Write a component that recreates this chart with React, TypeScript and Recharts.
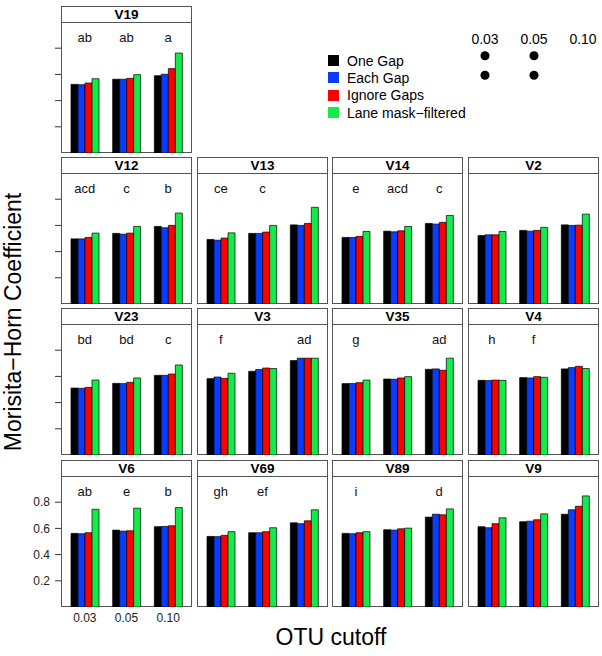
import React from "react";
import {
  BarChart,
  Bar,
  XAxis,
  YAxis,
  ZAxis,
  ReferenceDot,
  ScatterChart,
  Scatter,
} from "recharts";

const cutoffs = ["0.03", "0.05", "0.10"];
const methods = ["One Gap", "Each Gap", "Ignore Gaps", "Lane mask\u2212filtered"];
const methodKeys = ["oneGap", "eachGap", "ignoreGaps", "laneMask"];
const colors = ["#000000", "#0a3cff", "#ff0000", "#14eb4b"];

// Morisita-Horn values per region: [One Gap, Each Gap, Ignore Gaps, Lane mask] x cutoff
const v19 = [[0.524, 0.563, 0.59], [0.521, 0.563, 0.601], [0.534, 0.57, 0.644], [0.567, 0.598, 0.763]];
const v12 = [[0.497, 0.539, 0.592], [0.497, 0.533, 0.582], [0.508, 0.541, 0.6], [0.541, 0.592, 0.694]];
const v13 = [[0.493, 0.539, 0.604], [0.487, 0.539, 0.6], [0.503, 0.549, 0.615], [0.543, 0.6, 0.738]];
const v14 = [[0.508, 0.556, 0.615], [0.508, 0.551, 0.61], [0.516, 0.559, 0.623], [0.554, 0.592, 0.676]];
const v2 = [[0.523, 0.562, 0.604], [0.528, 0.556, 0.6], [0.528, 0.562, 0.602], [0.554, 0.585, 0.686]];
const v23 = [[0.511, 0.547, 0.608], [0.509, 0.545, 0.608], [0.516, 0.555, 0.618], [0.572, 0.588, 0.687]];
const v3 = [[0.583, 0.639, 0.721], [0.595, 0.652, 0.739], [0.585, 0.664, 0.739], [0.624, 0.66, 0.739]];
const v35 = [[0.545, 0.58, 0.654], [0.545, 0.578, 0.657], [0.552, 0.588, 0.647], [0.572, 0.598, 0.739]];
const v4 = [[0.57, 0.591, 0.657], [0.568, 0.588, 0.667], [0.572, 0.598, 0.677], [0.57, 0.593, 0.66]];
const v6 = [[0.562, 0.587, 0.613], [0.559, 0.579, 0.615], [0.567, 0.582, 0.62], [0.746, 0.754, 0.759]];
const v69 = [[0.539, 0.567, 0.643], [0.537, 0.567, 0.636], [0.547, 0.575, 0.658], [0.575, 0.605, 0.742]];
const v89 = [[0.562, 0.59, 0.686], [0.559, 0.587, 0.708], [0.567, 0.597, 0.704], [0.575, 0.602, 0.749]];
const v9 = [[0.613, 0.651, 0.708], [0.605, 0.655, 0.742], [0.636, 0.666, 0.769], [0.681, 0.711, 0.848]];

// significance letters above each cutoff group
const v19Letters = ["ab", "ab", "a"];
const v12Letters = ["acd", "c", "b"];
const v13Letters = ["ce", "c", ""];
const v14Letters = ["e", "acd", "c"];
const v2Letters = ["", "", ""];
const v23Letters = ["bd", "bd", "c"];
const v3Letters = ["f", "", "ad"];
const v35Letters = ["g", "", "ad"];
const v4Letters = ["h", "f", ""];
const v6Letters = ["ab", "e", "b"];
const v69Letters = ["gh", "ef", ""];
const v89Letters = ["i", "", "d"];
const v9Letters = ["", "", ""];

const yTicks = [0.2, 0.4, 0.6, 0.8];

// dot matrix in the top right corner (rows x cutoffs)
const dotMatrix = [
  [1, 1, 0],
  [1, 1, 0],
];

// layout
const COL_X = [61, 197, 332, 468];
const ROW_Y = [6, 157, 308, 460];
const PW = 131;
const HEAD = 16;
const PH = 131;
const BORDER = "#555";
const FONT = "'Liberation Sans', Arial, Helvetica, sans-serif";

const panels = [
  { name: "V19", vals: v19, letters: v19Letters, col: 0, row: 0 },
  { name: "V12", vals: v12, letters: v12Letters, col: 0, row: 1 },
  { name: "V13", vals: v13, letters: v13Letters, col: 1, row: 1 },
  { name: "V14", vals: v14, letters: v14Letters, col: 2, row: 1 },
  { name: "V2", vals: v2, letters: v2Letters, col: 3, row: 1 },
  { name: "V23", vals: v23, letters: v23Letters, col: 0, row: 2 },
  { name: "V3", vals: v3, letters: v3Letters, col: 1, row: 2 },
  { name: "V35", vals: v35, letters: v35Letters, col: 2, row: 2 },
  { name: "V4", vals: v4, letters: v4Letters, col: 3, row: 2 },
  { name: "V6", vals: v6, letters: v6Letters, col: 0, row: 3 },
  { name: "V69", vals: v69, letters: v69Letters, col: 1, row: 3 },
  { name: "V89", vals: v89, letters: v89Letters, col: 2, row: 3 },
  { name: "V9", vals: v9, letters: v9Letters, col: 3, row: 3 },
];

const toRows = (vals: number[][]) =>
  cutoffs.map((c, i) => {
    const r: Record<string, any> = { cutoff: c };
    methodKeys.forEach((k, m) => (r[k] = vals[m][i]));
    return r;
  });

function Panel({ name, vals, letters, col, row }: any) {
  const left = COL_X[col];
  const top = ROW_Y[row];
  const withY = col === 0;
  const withX = col === 0 && row === 3;
  const axisW = withY ? left : 0;
  const data = toRows(vals);

  return (
    <>
      <div
        style={{
          position: "absolute",
          left,
          top,
          width: PW,
          height: HEAD + PH,
          border: `1px solid ${BORDER}`,
          boxSizing: "border-box",
        }}
      >
        <div
          style={{
            height: HEAD - 1,
            borderBottom: `1px solid ${BORDER}`,
            textAlign: "center",
            fontWeight: "bold",
            fontSize: 13.5,
            lineHeight: `${HEAD - 1}px`,
          }}
        >
          {name}
        </div>
      </div>
      <div style={{ position: "absolute", left: left - axisW, top: top + HEAD }}>
        <BarChart
          width={PW + axisW}
          height={PH + (withX ? 22 : 0)}
          data={data}
          margin={{ top: 0, right: 0, bottom: 0, left: 0 }}
          barSize={7}
          barGap={0}
        >
          <XAxis
            dataKey="cutoff"
            hide={!withX}
            height={22}
            padding={{ left: 3, right: 3 }}
            axisLine={false}
            tickLine={false}
            tickSize={4}
            tickMargin={2}
            interval={0}
            tick={{ fontSize: 12, fill: "#222" }}
          />
          <YAxis
            hide={!withY}
            width={axisW || 60}
            domain={[0, 1]}
            ticks={yTicks}
            allowDataOverflow
            axisLine={false}
            tickSize={6}
            tickMargin={5}
            tickLine={{ stroke: "#333" }}
            tick={{ fontSize: 12, fill: withX ? "#222" : "transparent" }}
          />
          {methodKeys.map((k, m) => (
            <Bar
              key={k}
              dataKey={k}
              name={methods[m]}
              fill={colors[m]}
              stroke="#000"
              strokeWidth={0.7}
              isAnimationActive={false}
            />
          ))}
          {letters.map((l: string, i: number) =>
            l ? (
              <ReferenceDot
                key={i}
                x={cutoffs[i]}
                y={0.885}
                r={0}
                fill="none"
                stroke="none"
                label={{ value: l, position: "center", fontSize: 13, fill: "#111" }}
              />
            ) : null
          )}
        </BarChart>
      </div>
    </>
  );
}

export default function App() {
  const dots: { x: number; y: number }[] = [];
  dotMatrix.forEach((r, ri) =>
    r.forEach((v, ci) => {
      if (v) dots.push({ x: ci, y: ri + 1 });
    })
  );

  return (
    <div
      style={{
        position: "absolute",
        left: 0,
        top: 0,
        width: 602,
        height: 656,
        background: "#fff",
        fontFamily: FONT,
        color: "#000",
      }}
    >
      {panels.map((p) => (
        <Panel key={p.name} {...p} />
      ))}

      {/* legend */}
      <div style={{ position: "absolute", left: 328, top: 52 }}>
        {methods.map((m, i) => (
          <div key={m} style={{ display: "flex", alignItems: "center", height: 17.3 }}>
            <div style={{ width: 11, height: 11, background: colors[i], marginRight: 8 }} />
            <span style={{ fontSize: 14, whiteSpace: "nowrap" }}>{m}</span>
          </div>
        ))}
      </div>

      {/* dot matrix */}
      <div style={{ position: "absolute", left: 460, top: 26 }}>
        <ScatterChart width={142} height={59} margin={{ top: 0, right: 0, bottom: 0, left: 0 }}>
          <XAxis
            type="number"
            dataKey="x"
            orientation="top"
            domain={[0, 2]}
            ticks={[0, 1, 2]}
            tickFormatter={(v: number) => cutoffs[v]}
            height={20}
            padding={{ left: 25, right: 19 }}
            axisLine={false}
            tickLine={false}
            tickSize={0}
            tickMargin={2}
            tick={{ fontSize: 14, fill: "#000" }}
          />
          <YAxis type="number" dataKey="y" domain={[0.5, 2.5]} hide />
          <ZAxis range={[50, 50]} />
          <Scatter data={dots} fill="#000" isAnimationActive={false} />
        </ScatterChart>
      </div>

      {/* axis titles */}
      <div
        style={{
          position: "absolute",
          left: 13,
          top: 322,
          transform: "translate(-50%, -50%) rotate(-90deg)",
          fontSize: 23,
          whiteSpace: "nowrap",
        }}
      >
        Morisita{"\u2212"}Horn Coefficient
      </div>
      <div
        style={{
          position: "absolute",
          left: 331,
          top: 637,
          transform: "translate(-50%, -50%)",
          fontSize: 23,
          whiteSpace: "nowrap",
        }}
      >
        OTU cutoff
      </div>
    </div>
  );
}
